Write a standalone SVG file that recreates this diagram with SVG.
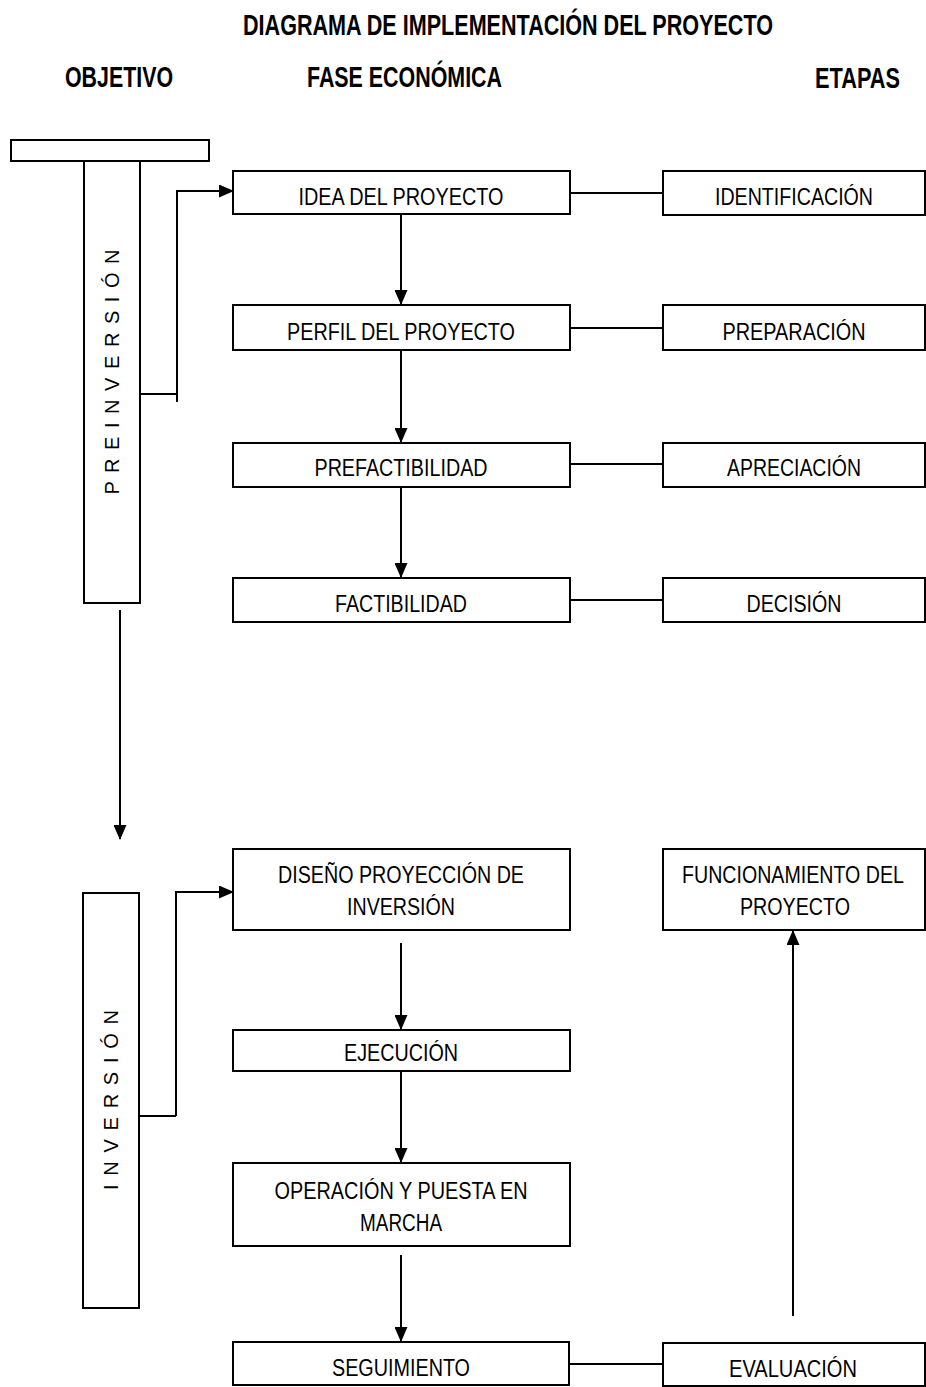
<svg xmlns="http://www.w3.org/2000/svg" width="926" height="1387" viewBox="0 0 926 1387">
<style>
.box{fill:#fff;stroke:#000;stroke-width:2}
.t{font-family:"Liberation Sans Narrow","Liberation Sans",Arial,sans-serif;font-size:23px;text-anchor:middle;fill:#000}
.h{font-family:"Liberation Sans Narrow","Liberation Sans",Arial,sans-serif;font-size:29px;font-weight:bold;fill:#000}
.v{font-family:"Liberation Sans",Arial,sans-serif;font-size:20px;text-anchor:middle;fill:#000}
.ln{fill:none;stroke:#000;stroke-width:2}
</style>
<defs>
<marker id="ah" markerUnits="userSpaceOnUse" markerWidth="15" markerHeight="13" refX="14" refY="6.5" orient="auto">
<path d="M0,0 L15,6.5 L0,13 Z" fill="#000"/>
</marker>
</defs>
<rect width="926" height="1387" fill="#fff"/>
<g id="headers">
<text class="h" x="243" y="35" textLength="530" lengthAdjust="spacingAndGlyphs">DIAGRAMA  DE IMPLEMENTACIÓN DEL PROYECTO</text>
<text class="h" x="65" y="87" textLength="108" lengthAdjust="spacingAndGlyphs">OBJETIVO</text>
<text class="h" x="307" y="87" textLength="195" lengthAdjust="spacingAndGlyphs">FASE ECONÓMICA</text>
<text class="h" x="815" y="88" textLength="85" lengthAdjust="spacingAndGlyphs">ETAPAS</text>
</g>
<g id="preinversion">
<rect class="box" x="11" y="140" width="198" height="21"/>
<rect class="box" x="84" y="161" width="56" height="442"/>
<text class="v" transform="translate(119,372) rotate(-90)" textLength="245" lengthAdjust="spacing">P R E I N V E R S I Ó N</text>
</g>
<g id="inversion">
<rect class="box" x="83" y="893" width="56" height="415"/>
<text class="v" transform="translate(118,1100) rotate(-90)" textLength="180" lengthAdjust="spacing">I N V E R S I Ó N</text>
</g>
<g id="idea"><rect class="box" x="233" y="171" width="337" height="43"/><text class="t" x="401" y="205" textLength="205" lengthAdjust="spacingAndGlyphs">IDEA DEL PROYECTO</text></g>
<g id="perfil"><rect class="box" x="233" y="305" width="337" height="45"/><text class="t" x="401" y="340" textLength="228" lengthAdjust="spacingAndGlyphs">PERFIL DEL PROYECTO</text></g>
<g id="prefactibilidad"><rect class="box" x="233" y="443" width="337" height="44"/><text class="t" x="401" y="476" textLength="173" lengthAdjust="spacingAndGlyphs">PREFACTIBILIDAD</text></g>
<g id="factibilidad"><rect class="box" x="233" y="578" width="337" height="44"/><text class="t" x="401" y="612" textLength="132" lengthAdjust="spacingAndGlyphs">FACTIBILIDAD</text></g>
<g id="identificacion"><rect class="box" x="663" y="171" width="262" height="44"/><text class="t" x="794" y="205" textLength="158" lengthAdjust="spacingAndGlyphs">IDENTIFICACIÓN</text></g>
<g id="preparacion"><rect class="box" x="663" y="305" width="262" height="45"/><text class="t" x="794" y="340" textLength="143" lengthAdjust="spacingAndGlyphs">PREPARACIÓN</text></g>
<g id="apreciacion"><rect class="box" x="663" y="443" width="262" height="44"/><text class="t" x="794" y="476" textLength="134" lengthAdjust="spacingAndGlyphs">APRECIACIÓN</text></g>
<g id="decision"><rect class="box" x="663" y="578" width="262" height="44"/><text class="t" x="794" y="612" textLength="95" lengthAdjust="spacingAndGlyphs">DECISIÓN</text></g>
<g id="diseno"><rect class="box" x="233" y="849" width="337" height="81"/><text class="t" x="401" y="883" textLength="246" lengthAdjust="spacingAndGlyphs">DISEÑO PROYECCIÓN DE</text><text class="t" x="401" y="915" textLength="108" lengthAdjust="spacingAndGlyphs">INVERSIÓN</text></g>
<g id="ejecucion"><rect class="box" x="233" y="1030" width="337" height="41"/><text class="t" x="401" y="1061" textLength="114" lengthAdjust="spacingAndGlyphs">EJECUCIÓN</text></g>
<g id="operacion"><rect class="box" x="233" y="1163" width="337" height="83"/><text class="t" x="401" y="1199" textLength="253" lengthAdjust="spacingAndGlyphs">OPERACIÓN Y PUESTA EN</text><text class="t" x="401" y="1231" textLength="82" lengthAdjust="spacingAndGlyphs">MARCHA</text></g>
<g id="seguimiento"><rect class="box" x="233" y="1342" width="336" height="43"/><text class="t" x="401" y="1376" textLength="138" lengthAdjust="spacingAndGlyphs">SEGUIMIENTO</text></g>
<g id="evaluacion"><rect class="box" x="663" y="1343" width="262" height="43"/><text class="t" x="793" y="1377" textLength="128" lengthAdjust="spacingAndGlyphs">EVALUACIÓN</text></g>
<g id="funcionamiento"><rect class="box" x="663" y="849" width="262" height="81"/><text class="t" x="793" y="883" textLength="222" lengthAdjust="spacingAndGlyphs">FUNCIONAMIENTO DEL</text><text class="t" x="795" y="915" textLength="110" lengthAdjust="spacingAndGlyphs">PROYECTO</text></g>
<g id="connectors">
<path class="ln" d="M140,394 H177 M177,402 V191 H233" marker-end="url(#ah)"/>
<path class="ln" d="M139,1116 H176 M176,1116 V892 H233" marker-end="url(#ah)"/>
<path class="ln" d="M120,610 V839" marker-end="url(#ah)"/>
<path class="ln" d="M401,214 V304" marker-end="url(#ah)"/>
<path class="ln" d="M401,350 V442" marker-end="url(#ah)"/>
<path class="ln" d="M401,487 V577" marker-end="url(#ah)"/>
<path class="ln" d="M401,943 V1029" marker-end="url(#ah)"/>
<path class="ln" d="M401,1071 V1162" marker-end="url(#ah)"/>
<path class="ln" d="M401,1255 V1341" marker-end="url(#ah)"/>
<path class="ln" d="M793,1316 V931" marker-end="url(#ah)"/>
<path class="ln" d="M570,193 H663 M570,328 H663 M570,464 H663 M570,600 H663 M569,1364 H663"/>
</g>
</svg>
